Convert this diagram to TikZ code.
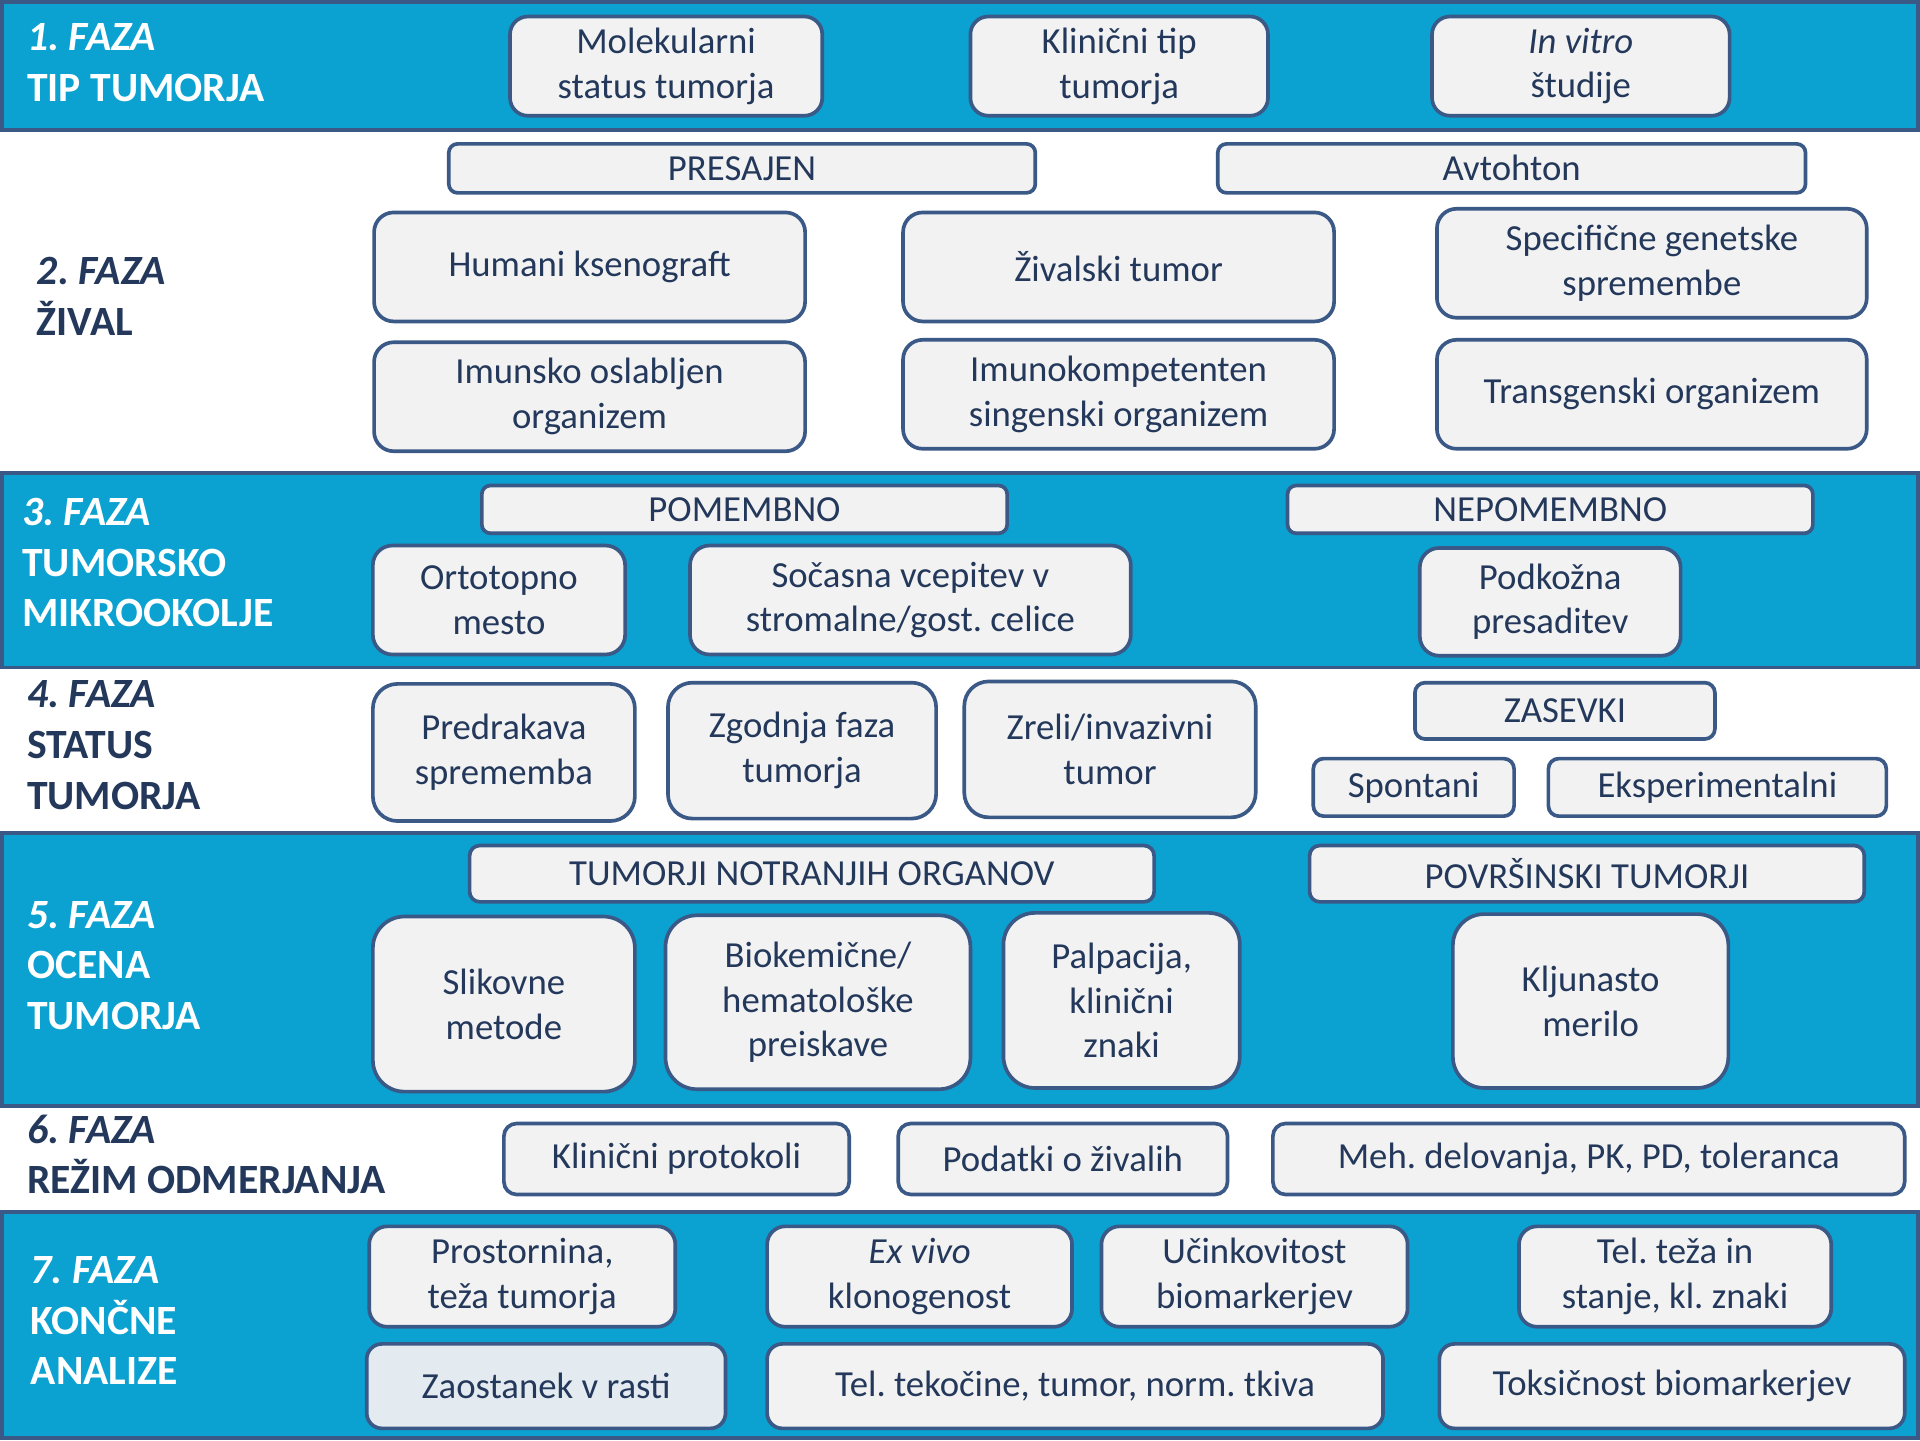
\documentclass[tikz,border=0pt]{standalone}
\usepackage{fontspec}
\setmainfont{Carlito}
\frenchspacing
\definecolor{band}{RGB}{11,161,208}
\definecolor{edge}{RGB}{59,89,135}
\definecolor{ink}{RGB}{35,56,90}
\definecolor{boxfill}{RGB}{242,242,242}
\definecolor{zfill}{RGB}{228,235,240}
\tikzset{
  bx/.style={draw=edge, line width=3pt, fill=boxfill, text=ink, align=center, inner sep=0pt,
    font=\fontsize{30}{36.5}\selectfont},
  hdr/.style={anchor=base west, align=left, inner sep=0pt, font=\fontsize{34}{41.5}\selectfont\bfseries},
  bandbox/.style={fill=band, draw=edge, line width=3pt},
}
\newcommand\mybox[7][]{%
  \pgfmathsetmacro\bxw{#5-#3-3}%
  \pgfmathsetmacro\bxh{#6-#4-3}%
  \pgfmathsetmacro\bxr{0.18*min(\bxw,\bxh)}%
  \node[bx, minimum width=\bxw pt, minimum height=\bxh pt, rounded corners=\bxr pt, #1] (#2) at ({(#3+#5)/2},{(#4+#6)/2}) {#7};}
\begin{document}
\begin{tikzpicture}[x=1pt,y=-1pt]
\useasboundingbox (0,0) rectangle (1568,1176);
\fill[white] (0,0) rectangle (1568,1176);
% bands
\draw[bandbox] (1.5,1.5) rectangle (1566.5,106);
\draw[bandbox] (1.5,386) rectangle (1566.5,545);
\draw[bandbox] (1.5,680) rectangle (1566.5,903);
\draw[bandbox] (1.5,990) rectangle (1566.5,1174.5);
% headers (base = last line baseline)
\node[hdr, text=white] (h1) at (22,83) {\textit{1. FAZA}\\TIP TUMORJA};
\node[hdr, text=ink] (h2) at (30,274) {\textit{2. FAZA}\\ŽIVAL};
\node[hdr, text=white] (h3) at (18,512) {\textit{3. FAZA}\\TUMORSKO\\MIKROOKOLJE};
\node[hdr, text=ink] (h4) at (22,661) {\textit{4. FAZA}\\STATUS\\TUMORJA};
\node[hdr, text=white] (h5) at (22,841) {\textit{5. FAZA}\\OCENA\\TUMORJA};
\node[hdr, text=ink] (h6) at (22,975) {\textit{6. FAZA}\\REŽIM ODMERJANJA};
\node[hdr, text=white] (h7) at (25,1131) {\textit{7. FAZA}\\KONČNE\\ANALIZE};
% band 1
\mybox{m1}{415}{12}{673}{96}{Molekularni\\status tumorja}
\mybox{m2}{791}{12}{1037}{96}{Klinični tip\\tumorja}
\mybox{m3}{1168}{12}{1414}{96}{\textit{In vitro}\\študije}
% band 2
\mybox{p2a}{365}{116}{847}{159}{PRESAJEN}
\mybox{p2b}{993}{116}{1476}{159}{Avtohton}
\mybox{b2a}{304}{172}{659}{264}{Humani ksenograft}
\mybox{b2b}{736}{172}{1091}{264}{Živalski tumor}
\mybox{b2c}{1172}{169}{1526}{261}{Specifične genetske\\spremembe}
\mybox{b2d}{304}{278}{659}{370}{Imunsko oslabljen\\organizem}
\mybox{b2e}{736}{276}{1091}{368}{Imunokompetenten\\singenski organizem}
\mybox{b2f}{1172}{276}{1526}{368}{Transgenski organizem}
% band 3
\mybox{p3a}{392}{395}{824}{437}{POMEMBNO}
\mybox{p3b}{1050}{395}{1482}{437}{NEPOMEMBNO}
\mybox{b3a}{303}{444}{512}{536}{Ortotopno\\mesto}
\mybox{b3b}{562}{444}{925}{536}{Sočasna vcepitev v\\stromalne/gost. celice}
\mybox{b3c}{1158}{446}{1374}{537}{Podkožna\\presaditev}
% band 4
\mybox{b4a}{303}{557}{520}{672}{Predrakava\\sprememba}
\mybox{b4b}{544}{556}{766}{670}{Zgodnja faza\\tumorja}
\mybox{b4c}{786}{555}{1027}{669}{Zreli/invazivni\\tumor}
\mybox{p4}{1154}{556}{1402}{605}{ZASEVKI}
\mybox{b4d}{1071}{618}{1238}{668}{Spontani}
\mybox{b4e}{1263}{618}{1542}{668}{Eksperimentalni}
% band 5
\mybox{p5a}{382}{689}{944}{738}{TUMORJI NOTRANJIH ORGANOV}
\mybox{p5b}{1068}{689}{1524}{738}{POVRŠINSKI TUMORJI}
\mybox{b5a}{303}{747}{520}{893}{Slikovne\\metode}
\mybox{b5b}{542}{746}{794}{891}{Biokemične/\\hematološke\\preiskave}
\mybox{b5c}{818}{744}{1014}{890}{Palpacija,\\klinični\\znaki}
\mybox{b5d}{1185}{745}{1413}{890}{Kljunasto\\merilo}
% band 6
\mybox{b6a}{410}{916}{695}{977}{Klinični protokoli}
\mybox{b6b}{732}{916}{1004}{977}{Podatki o živalih}
\mybox{b6c}{1038}{916}{1557}{977}{Meh. delovanja, PK, PD, toleranca}
% band 7
\mybox{b7a}{300}{1000}{553}{1085}{Prostornina,\\teža tumorja}
\mybox{b7b}{625}{1000}{877}{1085}{\textit{Ex vivo}\\klonogenost}
\mybox{b7c}{898}{1000}{1151}{1085}{Učinkovitost\\biomarkerjev}
\mybox{b7d}{1239}{1000}{1497}{1085}{Tel. teža in\\stanje, kl. znaki}
\mybox[fill=zfill]{b7e}{298}{1096}{594}{1168}{Zaostanek v rasti}
\mybox{b7f}{625}{1096}{1131}{1168}{Tel. tekočine, tumor, norm. tkiva}
\mybox{b7g}{1174}{1096}{1557}{1168}{Toksičnost biomarkerjev}
\end{tikzpicture}
\end{document}
